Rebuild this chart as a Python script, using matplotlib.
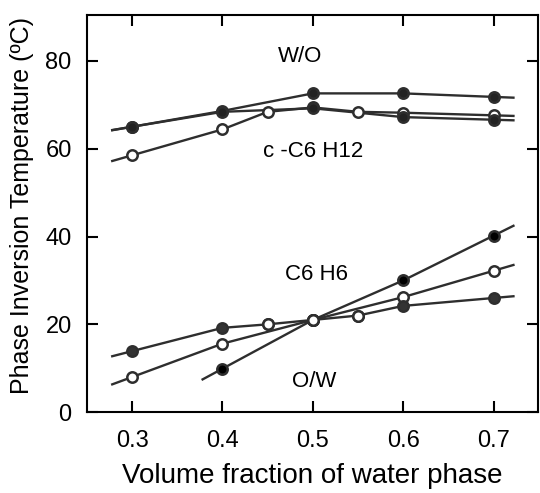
import matplotlib
matplotlib.use("Agg")
import matplotlib.pyplot as plt

plt.rcParams['font.family'] = ['Liberation Sans', 'DejaVu Sans']

# W/O upper curve
wo_x = [0.3, 0.4, 0.5, 0.6, 0.7]
wo_y = [65.0, 68.6, 72.6, 72.6, 71.8]

# c-C6H12, open markers
ch_open_x = [0.3, 0.4, 0.45, 0.5, 0.55, 0.6, 0.7]
ch_open_y = [58.5, 64.4, 68.4, 69.4, 68.4, 68.2, 67.6]

# c-C6H12, dark markers
ch_dark_x = [0.3, 0.4, 0.5, 0.6, 0.7]
ch_dark_y = [65.0, 68.4, 69.2, 67.2, 66.6]

# C6H6 / O/W, bottom group
bz_steep_x = [0.4, 0.5, 0.6, 0.7]
bz_steep_y = [9.9, 21.0, 30.0, 40.2]

bz_mid_x = [0.3, 0.4, 0.5, 0.6, 0.7]
bz_mid_y = [8.0, 15.6, 21.0, 26.2, 32.2]

bz_flat_x = [0.3, 0.4, 0.45, 0.5, 0.55, 0.6, 0.7]
bz_flat_y = [13.9, 19.2, 20.0, 21.0, 22.0, 24.2, 26.0]

xticks = [0.3, 0.4, 0.5, 0.6, 0.7]
yticks = [0, 20, 40, 60, 80]

labels = [("W/O", 0.486, 81.0), ("c -C6 H12", 0.5, 59.4),
          ("C6 H6", 0.504, 31.4), ("O/W", 0.501, 6.9)]


def extended(x, y, d=0.022):
    # the hand drawn curves run a little past the end points
    sl0 = (y[1] - y[0]) / (x[1] - x[0])
    sl1 = (y[-1] - y[-2]) / (x[-1] - x[-2])
    xe = [x[0] - d] + list(x) + [x[-1] + d]
    ye = [y[0] - sl0 * d] + list(y) + [y[-1] + sl1 * d]
    return xe, ye


fig = plt.figure(figsize=(5.4, 4.93), dpi=100)
ax = fig.add_axes([0.161, 0.164, 0.835, 0.806])

lc = '#2e2e2e'
series = [(wo_x, wo_y, '#222222'), (ch_open_x, ch_open_y, 'white'),
          (ch_dark_x, ch_dark_y, '#222222'), (bz_steep_x, bz_steep_y, 'black'),
          (bz_mid_x, bz_mid_y, 'white'), (bz_flat_x, bz_flat_y, '#333333')]
for x, y, fc in series:
    xe, ye = extended(x, y)
    ax.plot(xe, ye, '-', color=lc, lw=1.7, zorder=2)
    ax.plot(x, y, 'o', ms=7.5, mfc=fc, mec=lc, mew=1.8, zorder=3)

# open points sitting on the flat benzene curve
ax.plot(bz_flat_x[2:5], bz_flat_y[2:5], 'o', ms=7.5, mfc='white', mec=lc,
        mew=1.8, zorder=4)

for txt, tx, ty in labels:
    ax.text(tx, ty, txt, ha='center', va='center', fontsize=16)

ax.set_xlim(0.25, 0.749)
ax.set_ylim(0, 90.5)
ax.set_xticks(xticks)
ax.set_xticklabels(['0.3', '0.4', '0.5', '0.6', '0.7'])
ax.set_yticks(yticks)
ax.tick_params(direction='in', length=8, width=1.5, top=True, right=True,
               labelsize=17)
ax.tick_params(axis='x', pad=13)
ax.tick_params(axis='y', pad=11)
for s in ax.spines.values():
    s.set_linewidth(1.5)
ax.set_xlabel('Volume fraction of water phase', fontsize=20, labelpad=8)
ax.set_ylabel('Phase Inversion Temperature (ºC)', fontsize=18)
ax.yaxis.set_label_coords(-0.118, 0.521)

fig.savefig('out.png', dpi=100)
